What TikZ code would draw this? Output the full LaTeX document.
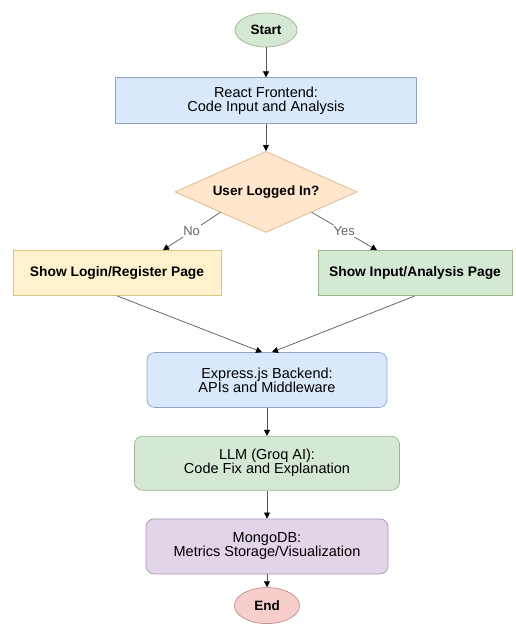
\documentclass[tikz,border=0pt]{standalone}
\usepackage{fontspec}
\setmainfont{Liberation Sans}
\usepackage{tikz}
\usetikzlibrary{shapes.geometric, positioning, arrows.meta}

\definecolor{fillblue}{HTML}{DAE8FC}
\definecolor{fillgreen}{HTML}{D5E8D4}
\definecolor{fillorange}{HTML}{FFE6CC}
\definecolor{fillyellow}{HTML}{FFF2CC}
\definecolor{fillpurple}{HTML}{E1D5E7}
\definecolor{fillred}{HTML}{F8CECC}
\definecolor{lineblue}{HTML}{8FA4C4}
\definecolor{linegreen}{HTML}{9DB58F}
\definecolor{lineorange}{HTML}{D9B47E}
\definecolor{lineyellow}{HTML}{D8C48A}
\definecolor{linepurple}{HTML}{A894B0}
\definecolor{linered}{HTML}{C48A88}

\tikzset{
    x=1pt, y=1pt,
    >={Triangle[width=6pt,length=6pt,color=black]}, % small black arrow tips
    flow/.style={->, draw=black!65, line width=0.7pt}, % the connectors
    terminal/.style={ellipse, inner sep=0pt, line width=0.7pt,
        font=\fontsize{13.5}{14}\selectfont\bfseries}, % start and end
    process/.style={rectangle, inner sep=0pt, line width=0.7pt, align=center,
        font=\fontsize{14.5}{14}\selectfont}, % plain boxes
    roundproc/.style={process, rounded corners=8pt}, % rounded boxes
    decision/.style={diamond, aspect=2.25, inner sep=0pt, line width=0.7pt,
        minimum width=182pt, minimum height=81pt,
        font=\fontsize{13.5}{14}\selectfont\bfseries}, % the question
    answer/.style={fill=white, inner sep=1.5pt, text=black!60,
        font=\fontsize{13}{14}\selectfont}, % yes / no labels
    }

\begin{document}
\begin{tikzpicture}
\useasboundingbox (0,0) rectangle (515,-632);

\node[terminal, fill=fillgreen, draw=linegreen, minimum width=62pt, minimum height=34pt] (start) at (266,-30) {Start};
\node[process, fill=fillblue, draw=lineblue, minimum width=301pt, minimum height=46pt, below=30pt of start] (react) {React Frontend:\\Code Input and Analysis};
\node[decision, fill=fillorange, draw=lineorange, below=27pt of react] (logged) {User Logged In?};
\node[process, fill=fillyellow, draw=lineyellow, minimum width=208pt, minimum height=45pt,
    font=\fontsize{13.8}{14}\selectfont\bfseries] (login) at (117,-273) {Show Login/Register Page};
\node[process, fill=fillgreen, draw=linegreen, minimum width=194pt, minimum height=45pt,
    font=\fontsize{13.8}{14}\selectfont\bfseries] (input) at (415,-273) {Show Input/Analysis Page};
\node[roundproc, fill=fillblue, draw=lineblue, minimum width=240pt, minimum height=55pt] (express) at (267,-380) {Express.js Backend:\\APIs and Middleware};
\node[roundproc, fill=fillgreen, draw=linegreen, minimum width=265pt, minimum height=54pt, below=28pt of express] (llm) {LLM (Groq AI):\\Code Fix and Explanation};
\node[roundproc, fill=fillpurple, draw=linepurple, minimum width=242pt, minimum height=55pt, below=28pt of llm] (mongo) {MongoDB:\\Metrics Storage/Visualization};
\node[terminal, fill=fillred, draw=linered, minimum width=65pt, minimum height=36pt, below=13pt of mongo] (end) {End};

\draw[flow] (start) -- (react);
\draw[flow] (react) -- (logged);
\draw[flow] (logged.south west) -- node[answer] {No} ([xshift=46pt]login.north);
\draw[flow] (logged.south east) -- node[answer] {Yes} ([xshift=-38pt]input.north);
\draw[flow] (login.south) -- ([xshift=-5pt]express.north);
\draw[flow] (input.south) -- ([xshift=5pt]express.north);
\draw[flow] (express) -- (llm);
\draw[flow] (llm) -- (mongo);
\draw[flow] (mongo) -- (end);
\end{tikzpicture}
\end{document}
